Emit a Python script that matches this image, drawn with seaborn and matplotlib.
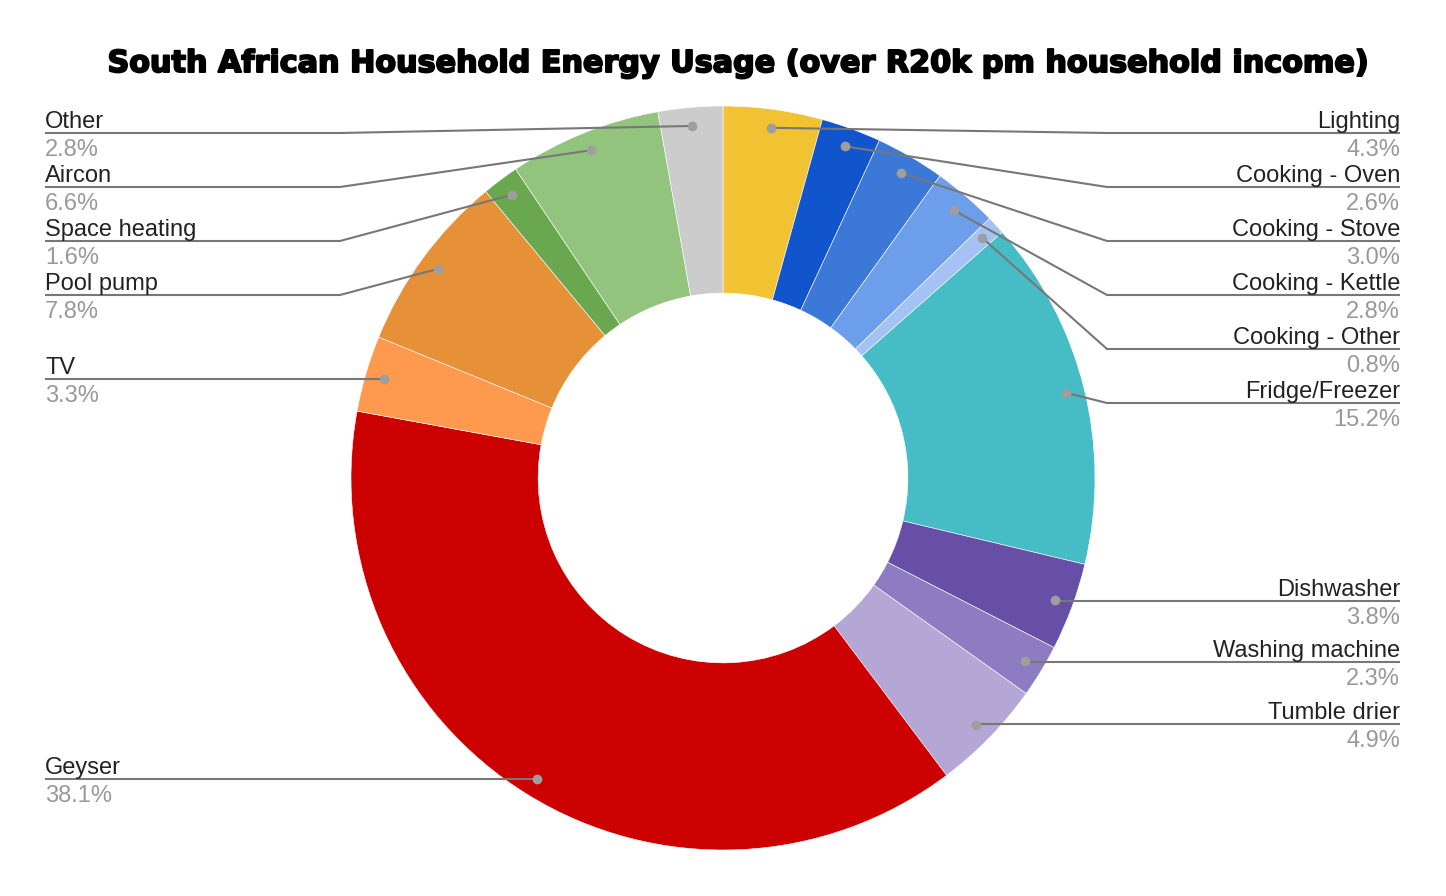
import numpy as np
import matplotlib
matplotlib.use('Agg')
import matplotlib.pyplot as plt
import matplotlib.patheffects as pe
import seaborn as sns

# Data (clockwise from 12 o'clock)
categories = ['Lighting', 'Cooking - Oven', 'Cooking - Stove', 'Cooking - Kettle',
              'Cooking - Other', 'Fridge/Freezer', 'Dishwasher', 'Washing machine',
              'Tumble drier', 'Geyser', 'TV', 'Pool pump', 'Space heating', 'Aircon', 'Other']
shares = [4.3, 2.6, 3.0, 2.8, 0.8, 15.2, 3.8, 2.3, 4.9, 38.1, 3.3, 7.8, 1.6, 6.6, 2.8]
slice_colors = ['#f1c232', '#1155cc', '#3c78d8', '#6d9eeb', '#a4c2f4', '#46bdc6',
                '#674ea7', '#8e7cc3', '#b4a7d6', '#cc0000', '#ff994d', '#e69138',
                '#6aa84f', '#93c47d', '#cccccc']
title = 'South African Household Energy Usage (over R20k pm household income)'

sns.set_style('white')
plt.rcParams['font.family'] = ['Liberation Sans', 'DejaVu Sans']

W, H = 1446, 896
fig = plt.figure(figsize=(W / 100, H / 100), dpi=100)
ax = fig.add_axes([0, 0, 1, 1])

# image-pixel helpers (y measured from top)
def Y(y):
    return H - y

cx, cy, R = 723, 478, 372
ax.pie(shares, colors=slice_colors, startangle=90, counterclock=False,
       radius=R, center=(cx, Y(cy)),
       wedgeprops=dict(width=R * 0.503, edgecolor='white', linewidth=0.4))
ax.set_xlim(0, W)
ax.set_ylim(0, H)
ax.set_aspect('equal')
ax.axis('off')

# label layout: side and y of the underline (image px)
layout = {
    'Lighting': ('r', 133), 'Cooking - Oven': ('r', 187), 'Cooking - Stove': ('r', 241),
    'Cooking - Kettle': ('r', 295), 'Cooking - Other': ('r', 349),
    'Fridge/Freezer': ('r', 403), 'Dishwasher': ('r', 601),
    'Washing machine': ('r', 662), 'Tumble drier': ('r', 724),
    'Geyser': ('l', 779), 'TV': ('l', 379), 'Pool pump': ('l', 295),
    'Space heating': ('l', 241), 'Aircon': ('l', 187), 'Other': ('l', 133),
}

total = sum(shares)
cum = np.cumsum([0] + shares[:-1])
for name, val, c0 in zip(categories, shares, cum):
    mid = (c0 + val / 2) / total * 2 * np.pi
    dx = cx + 0.95 * R * np.sin(mid)
    dy = cy - 0.95 * R * np.cos(mid)
    side, ly = layout[name]
    if side == 'r':
        ex = max(1107, dx) if abs(dy - ly) > 1 else dx
        xs = [dx, ex, 1400]
        tx, ha = 1400, 'right'
    else:
        ex = min(340, dx) if abs(dy - ly) > 1 else dx
        xs = [dx, ex, 45]
        tx, ha = 45, 'left'
    ax.plot(xs, [Y(dy), Y(ly), Y(ly)], color='#777777', lw=1.5, zorder=3,
            solid_capstyle='butt')
    ax.plot([dx], [Y(dy)], 'o', color='#9e9e9e', ms=7, zorder=4, mec='none')
    ax.text(tx, Y(ly - 5), name, ha=ha, va='baseline', fontsize=17, color='#222222')
    ax.text(tx, Y(ly + 23), f'{val:.1f}%', ha=ha, va='baseline', fontsize=17,
            color='#999999')

# heavier title (stroke mimics a black-weight face)
ax.text(737.5, Y(72), title, ha='center', va='baseline', fontsize=21.75,
        fontweight='heavy', family=['DejaVu Sans'], color='black',
        path_effects=[pe.withStroke(linewidth=1.4, foreground='black')])

fig.savefig('out.png', dpi=100)
